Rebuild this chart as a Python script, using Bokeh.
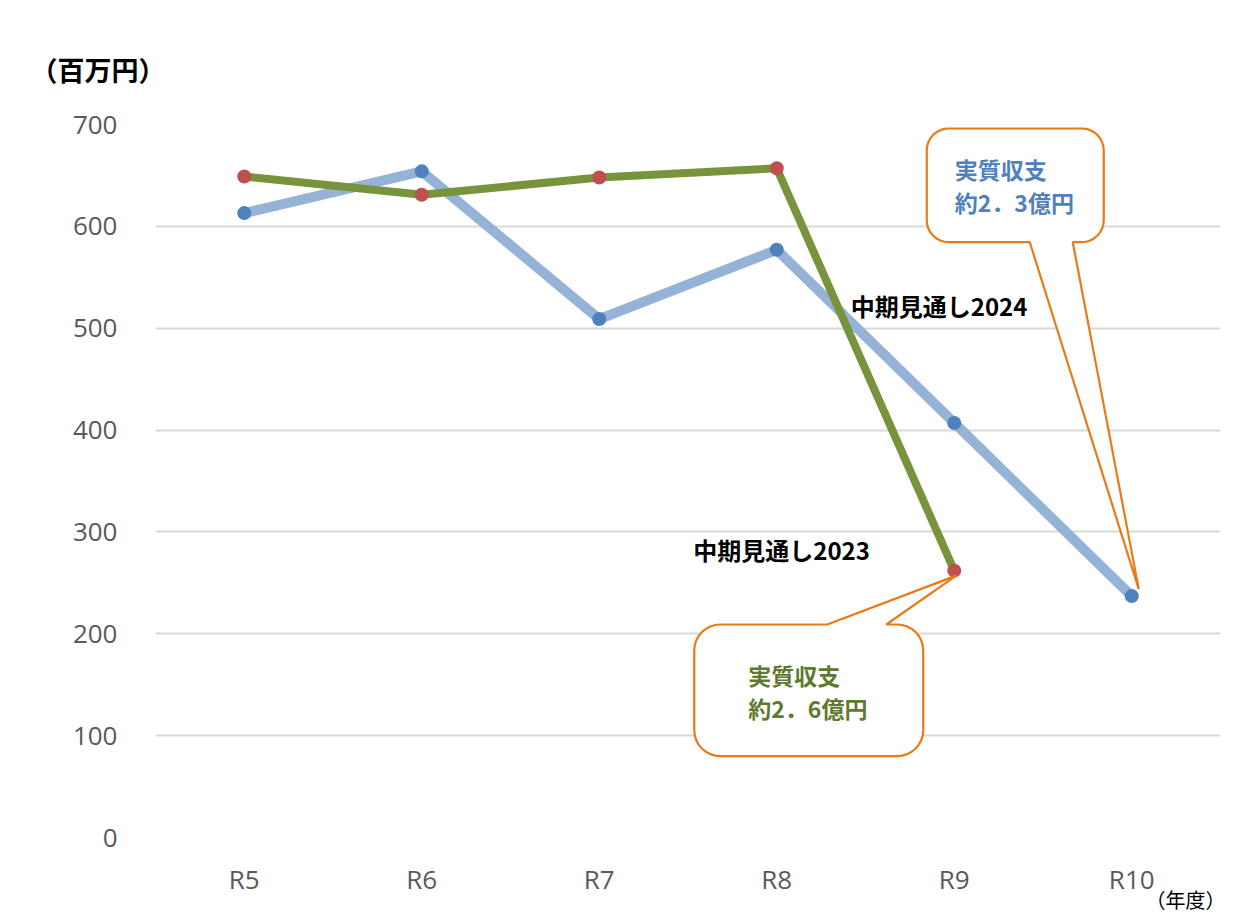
import math
from bokeh.plotting import figure
from bokeh.models import Range1d, FactorRange, FixedTicker, Label, ColumnDataSource
from bokeh.embed import file_html
from bokeh.resources import INLINE

# ---- data ----
years = ["R5", "R6", "R7", "R8", "R9", "R10"]
plan2024 = [613, 654, 509, 577, 407, 237]          # 中期見通し2024 (blue)
years2023 = ["R5", "R6", "R7", "R8", "R9"]
plan2023 = [649, 631, 648, 657, 262]               # 中期見通し2023 (green)
y_ticks = [0, 100, 200, 300, 400, 500, 600, 700]
series_names = ["中期見通し2024", "中期見通し2023"]
callout_2024 = ["実質収支", "約2．3億円"]
callout_2023 = ["実質収支", "約2．6億円"]
unit_label = "（百万円）"
year_label = "（年度）"

JP = "Noto Sans CJK JP"
BLUE_LINE = "#95B3D7"
BLUE_MARK = "#4F81BD"
GREEN_LINE = "#77933C"
RED_MARK = "#C0504D"
ORANGE = "#E97A16"
GREEN_TEXT = "#5F7A2E"
BLUE_TEXT = "#4F81BD"

W, H = 1232, 916
BL, BR, BT, BB = 155, 12, 124, 77
FW = W - BL - BR
FH = H - BT - BB
NX = len(years)
YMAX = 700

p = figure(width=W, height=H, x_range=FactorRange(*years), y_range=Range1d(0, YMAX),
           output_backend="svg", toolbar_location=None,
           min_border_left=BL, min_border_right=BR, min_border_top=BT, min_border_bottom=BB)
p.x_range.range_padding = 0
p.outline_line_color = None
p.background_fill_color = "white"
p.border_fill_color = "white"

# unit label as title (left of the frame)
p.title.text = unit_label
p.title.align = "left"
p.title.offset = 30 - BL
p.title.standoff = 72
p.title.text_font = JP
p.title.text_font_style = "bold"
p.title.text_font_size = "27px"
p.title.text_color = "black"

# pixel offsets (relative to frame) -> data / synthetic coords
def dx(px):
    return px * NX / FW

def dy(px):
    return px * YMAX / FH

# axes
p.yaxis.ticker = FixedTicker(ticks=y_ticks)
p.yaxis.axis_line_color = None
p.yaxis.major_tick_line_color = None
p.yaxis.minor_tick_line_color = None
p.yaxis.major_label_text_font = "Open Sans"
p.yaxis.major_label_text_font_size = "26px"
p.yaxis.major_label_text_color = "#595959"
p.yaxis.major_label_standoff = 32
p.xaxis.axis_line_color = None
p.xaxis.major_tick_line_color = None
p.xaxis.major_label_text_font = "Open Sans"
p.xaxis.major_label_text_font_size = "26px"
p.xaxis.major_label_text_color = "#595959"
p.xaxis.major_label_standoff = 17
# axis label centred on the frame's right end; ideographic spaces push the visible text left
p.xaxis.axis_label = year_label + "\u3000" * 4
p.xaxis.axis_label_text_font = JP
p.xaxis.axis_label_text_font_style = "normal"
p.xaxis.axis_label_text_font_size = "20px"
p.xaxis.axis_label_text_color = "black"
p.xaxis.axis_label_standoff = -15
for ax in p.xaxis:
    try:
        ax.axis_label_align = "end"
    except Exception:
        pass
p.xgrid.grid_line_color = None
p.ygrid.grid_line_color = "#D9D9D9"
p.ygrid.grid_line_width = 2

# series
s24 = ColumnDataSource(dict(x=years, y=plan2024))
s23 = ColumnDataSource(dict(x=years2023, y=plan2023))
p.line("x", "y", source=s24, line_color=BLUE_LINE, line_width=10, line_join="round")
p.line("x", "y", source=s23, line_color=GREEN_LINE, line_width=8, line_join="round")
p.scatter("x", "y", source=s24, size=14, fill_color=BLUE_MARK, line_color=None)
p.scatter("x", "y", source=s23, size=14, fill_color=RED_MARK, line_color=None)

# callout shape builder (box in synthetic/data coords, tail to tip)
def rounded_box(x0, x1, y0, y1, rx, ry, tail_edge, t0, t1, tip):
    pts = []
    def arc(cx, cy, a0, a1):
        for i in range(9):
            a = math.radians(a0 + (a1 - a0) * i / 8)
            pts.append((cx + rx * math.cos(a), cy + ry * math.sin(a)))
    arc(x0 + rx, y1 - ry, 180, 90)        # top-left
    if tail_edge == "top":
        pts.append((t0, y1)); pts.append(tip); pts.append((t1, y1))
    arc(x1 - rx, y1 - ry, 90, 0)          # top-right
    arc(x1 - rx, y0 + ry, 0, -90)         # bottom-right
    if tail_edge == "bottom":
        pts.append((t1, y0)); pts.append(tip); pts.append((t0, y0))
    arc(x0 + rx, y0 + ry, -90, -180)      # bottom-left
    return [q[0] for q in pts], [q[1] for q in pts]

# callout for 2024 (points to R10)
i10 = years.index("R10")
xc = i10 + 0.5
tip1 = (xc + dx(7), plan2024[i10] + dy(7))
bx0, bx1 = xc - dx(205), xc - dx(28)
by1 = YMAX - dy(4)
by0 = by1 - dy(114)
xs, ys = rounded_box(bx0, bx1, by0, by1, dx(22), dy(22), "bottom",
                     xc - dx(102), xc - dx(59), tip1)
p.patch(xs, ys, fill_color="white", line_color=ORANGE, line_width=2.2)
for k, t in enumerate(callout_2024):
    p.add_layout(Label(x=bx0 + dx(28), y=by1 - dy(41 + 33 * k), text=t,
                       text_font=JP, text_font_style="bold", text_font_size="23px",
                       text_color=BLUE_TEXT, text_baseline="middle"))

# callout for 2023 (points to R9)
i9 = years2023.index("R9")
xc9 = i9 + 0.5
tip2 = (xc9 + dx(2), plan2023[i9] - dy(5))
cx0, cx1 = xc9 - dx(260), xc9 - dx(31)
cy1 = plan2023[i9] - dy(54)
cy0 = cy1 - dy(132)
xs2, ys2 = rounded_box(cx0, cx1, cy0, cy1, dx(26), dy(26), "top",
                       xc9 - dx(127), xc9 - dx(68), tip2)
p.patch(xs2, ys2, fill_color="white", line_color=ORANGE, line_width=2.2)
for k, t in enumerate(callout_2023):
    p.add_layout(Label(x=cx0 + dx(54), y=cy1 - dy(51 + 33 * k), text=t,
                       text_font=JP, text_font_style="bold", text_font_size="23px",
                       text_color=GREEN_TEXT, text_baseline="middle"))

# series name labels
p.add_layout(Label(x=years.index("R8") + 0.5 + dx(74), y=plan2024[3] - dy(56),
                   text=series_names[0], text_font=JP, text_font_style="bold",
                   text_font_size="24px", text_color="black", text_baseline="middle"))
p.add_layout(Label(x=years.index("R7") + 0.5 + dx(94), y=plan2023[4] + dy(21),
                   text=series_names[1], text_font=JP, text_font_style="bold",
                   text_font_size="24px", text_color="black", text_baseline="middle"))

open("out.html", "w").write(file_html(p, INLINE))
